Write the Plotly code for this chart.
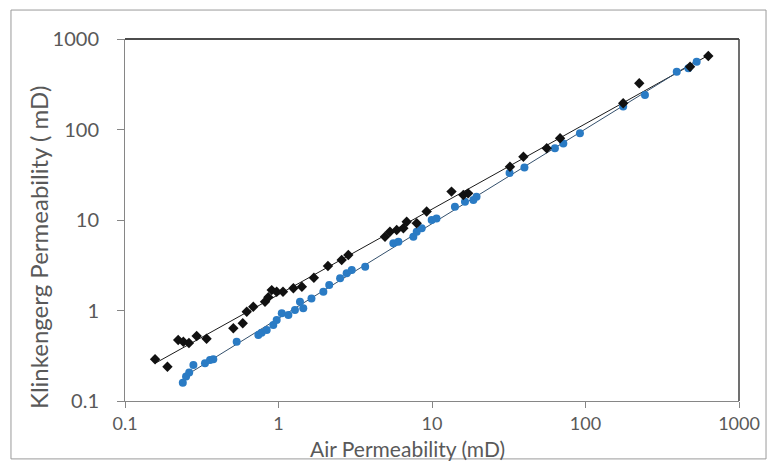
import numpy as np
import plotly.graph_objects as go

# Black diamonds (upper series)
air_k = [0.157, 0.189, 0.222, 0.240, 0.261, 0.293, 0.340, 0.508, 0.585, 0.621,
         0.685, 0.817, 0.859, 0.903, 0.973, 1.07, 1.25, 1.42, 1.70, 2.10,
         2.58, 2.85, 4.94, 5.32, 5.89, 6.51, 6.84, 7.95, 9.23, 13.4,
         16.0, 17.2, 32.2, 39.4, 55.9, 68.3, 176, 224, 480, 631]
klink_k = [0.289, 0.239, 0.472, 0.452, 0.437, 0.523, 0.488, 0.636, 0.722, 0.97,
           1.10, 1.25, 1.40, 1.68, 1.61, 1.61, 1.76, 1.83, 2.30, 3.10,
           3.61, 4.10, 6.54, 7.43, 7.76, 8.10, 9.57, 9.20, 12.4, 20.6,
           18.9, 19.7, 38.8, 50.0, 62.0, 80.0, 195, 324, 494, 649]

# Blue circles (lower series)
air_b = [0.238, 0.250, 0.262, 0.279, 0.332, 0.358, 0.376, 0.534, 0.739, 0.776,
         0.838, 0.925, 0.973, 1.05, 1.16, 1.28, 1.38, 1.45, 1.64, 1.96,
         2.14, 2.52, 2.78, 3.00, 3.67, 5.60, 6.04, 7.56, 7.95, 8.57,
         9.95, 10.7, 14.1, 16.4, 18.6, 19.5, 32.0, 40.0, 63.2, 71.7,
         92.0, 176, 244, 393, 468, 530]
klink_b = [0.159, 0.186, 0.206, 0.250, 0.261, 0.284, 0.289, 0.452, 0.536, 0.569,
           0.609, 0.692, 0.785, 0.93, 0.89, 1.01, 1.25, 1.06, 1.36, 1.61,
           1.91, 2.27, 2.58, 2.80, 3.05, 5.52, 5.76, 6.54, 7.43, 8.10,
           10.0, 10.4, 14.0, 15.9, 16.6, 18.1, 33.0, 38.0, 62.0, 70.0,
           90.8, 179, 240, 435, 474, 561]

x_ticks = [0.1, 1, 10, 100, 1000]
x_ticktext = ["0.1", "1", "10", "100", "1000"]
y_ticks = [0.1, 1, 10, 100, 1000]
y_ticktext = ["0.1", "1", "10", "100", "1000"]


def power_fit(x, y):
    lx, ly = np.log10(x), np.log10(y)
    b, a = np.polyfit(lx, ly, 1)
    xs = np.logspace(lx.min(), lx.max(), 50)
    return xs, 10 ** (a + b * np.log10(xs))


fig = go.Figure()
xs, ys = power_fit(np.array(air_k), np.array(klink_k))
fig.add_trace(go.Scatter(x=xs, y=ys, mode="lines",
                         line=dict(color="#1a1a1a", width=1), showlegend=False))
xs, ys = power_fit(np.array(air_b), np.array(klink_b))
fig.add_trace(go.Scatter(x=xs, y=ys, mode="lines",
                         line=dict(color="#34506c", width=1), showlegend=False))
fig.add_trace(go.Scatter(x=air_b, y=klink_b, mode="markers",
                         marker=dict(symbol="circle", size=8, color="#2a7bc4"),
                         showlegend=False))
fig.add_trace(go.Scatter(x=air_k, y=klink_k, mode="markers",
                         marker=dict(symbol="diamond", size=8, color="#111111"),
                         showlegend=False))

font = "Lato, 'Open Sans', sans-serif"
axis_common = dict(type="log", range=[-1, 3], showgrid=False, zeroline=False,
                   showline=True, linecolor="#868686", linewidth=1,
                   ticks="outside", tickcolor="#868686")
fig.update_xaxes(tickvals=x_ticks, ticktext=x_ticktext, ticklabelstandoff=0, ticklen=6,
                 tickfont=dict(family=font, size=18, color="#595959"), **axis_common)
fig.update_yaxes(tickvals=y_ticks, ticktext=y_ticktext, ticklabelstandoff=14, ticklen=7,
                 tickfont=dict(family=font, size=20, color="#595959"), **axis_common)

fig.update_layout(
    width=773, height=462,
    margin=dict(l=125, r=34, t=39, b=61),
    paper_bgcolor="white", plot_bgcolor="white",
    shapes=[
        dict(type="line", xref="paper", yref="paper", x0=0, x1=1, y0=1, y1=1,
             line=dict(color="#111111", width=1.5)),
        dict(type="line", xref="paper", yref="paper", x0=1, x1=1, y0=0, y1=1,
             line=dict(color="#404040", width=1.5)),
        dict(type="rect", xref="paper", yref="paper", x0=-0.1857, x1=1.044,
             y0=-0.160, y1=1.080, line=dict(color="#9a9a9a", width=1)),
    ],
    annotations=[
        dict(text="Klinkengerg Permeability ( mD)", xref="paper", yref="paper",
             x=-0.142, y=0.425, textangle=-90, showarrow=False,
             xanchor="center", yanchor="middle",
             font=dict(family=font, size=24, color="#595959")),
        dict(text="Air Permeability (mD)", xref="paper", yref="paper",
             x=0.4609, y=-0.1685, showarrow=False,
             xanchor="center", yanchor="bottom", borderpad=0,
             font=dict(family=font, size=21, color="#595959")),
    ],
)

fig.write_html("out.html")
